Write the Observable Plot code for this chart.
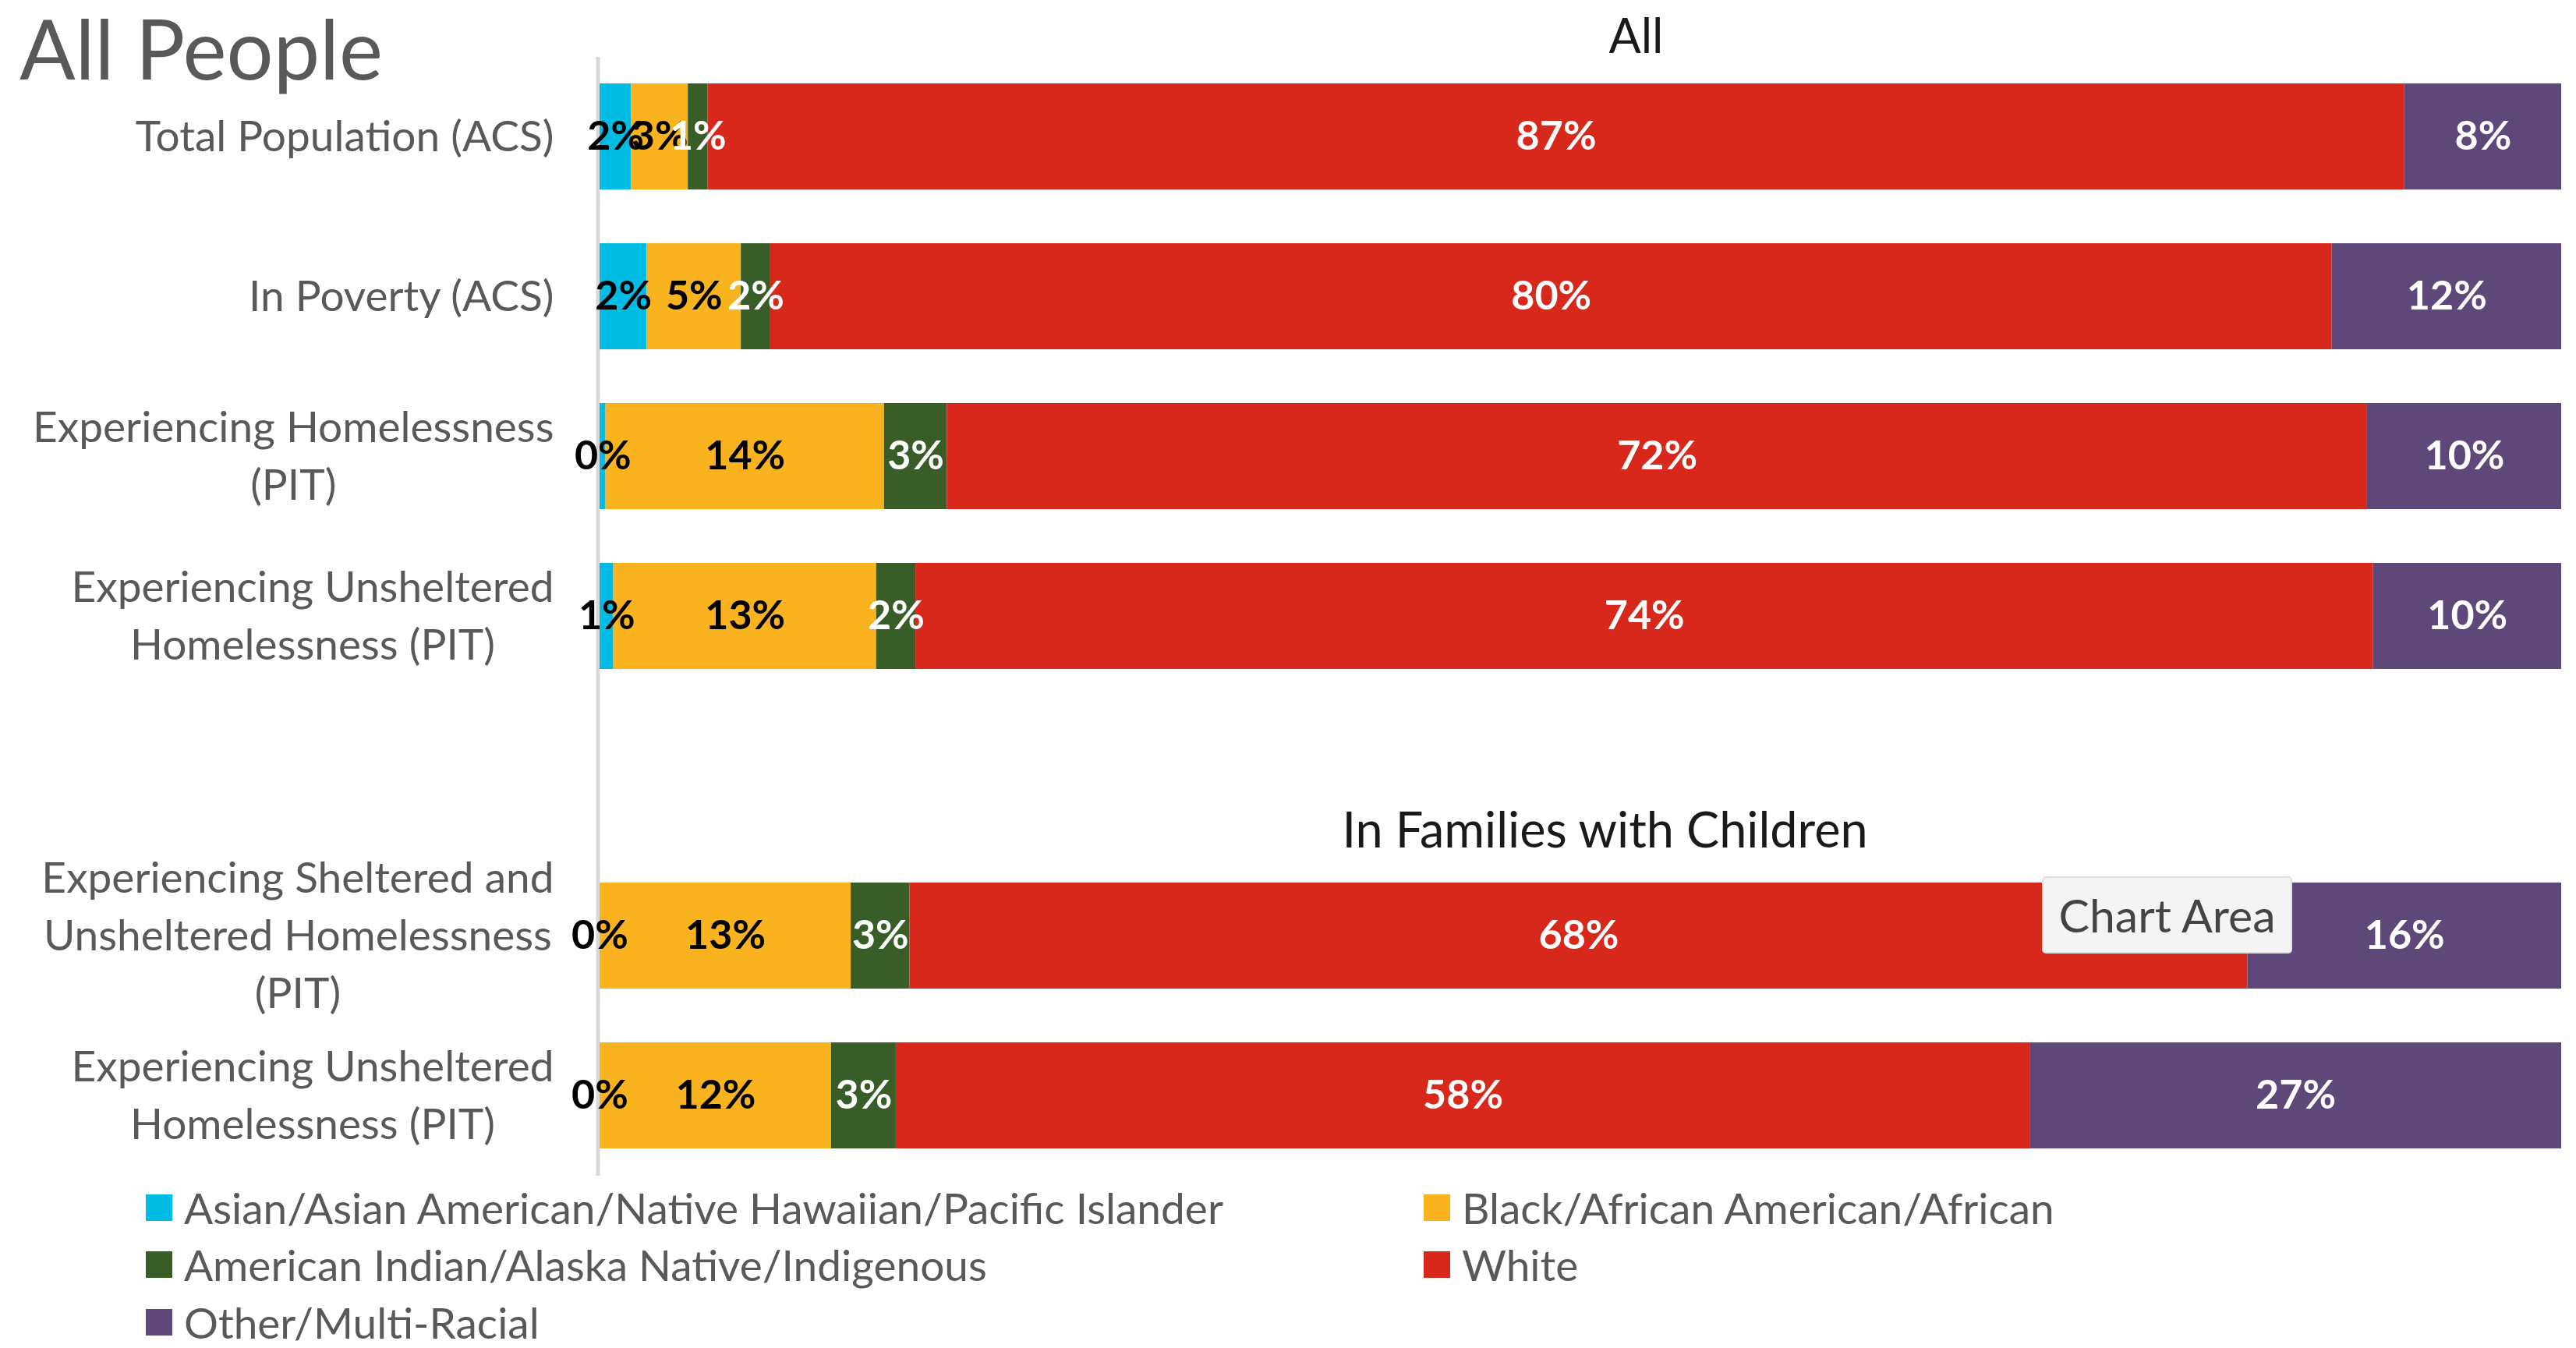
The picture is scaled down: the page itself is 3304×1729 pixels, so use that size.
<!DOCTYPE html>
<html>
<head>
<meta charset="utf-8">
<script src="https://cdn.jsdelivr.net/npm/d3@7"></script>
<script src="https://cdn.jsdelivr.net/npm/@observablehq/plot@0.6"></script>
<style>
  html, body { margin: 0; padding: 0; background: #fff; }
  body { width: 3304px; height: 1729px; position: relative; overflow: hidden; font-family: Lato, "Open Sans", sans-serif; }
  #chart { position: absolute; left: 0; top: 0; z-index: 1; }
  #title { position: absolute; left: 25px; top: 8px; font-size: 106px; line-height: 1; color: #595959; white-space: nowrap; z-index: 4; }
  #tip { position: absolute; left: 2619px; top: 1124px; width: 317px; height: 95px; background: #f4f4f4; border: 2px solid #e0e0e0; border-radius: 5px; font-size: 59px; color: #444; display: flex; align-items: center; justify-content: center; z-index: 5; }
  #legend { position: absolute; left: 187px; top: 1512px; display: grid; grid-template-columns: 1639px auto; grid-auto-rows: 73.5px; font-size: 55px; color: #595959; z-index: 3; }
  .item { display: flex; align-items: center; white-space: nowrap; }
  .sw { width: 34px; height: 34px; margin-right: 15px; flex: none; }
</style>
</head>
<body>
<div id="title">All People</div>
<div id="chart"></div>
<div id="tip">Chart Area</div>
<div id="legend"></div>
<script>
const races = [
  "Asian/Asian American/Native Hawaiian/Pacific Islander",
  "Black/African American/African",
  "American Indian/Alaska Native/Indigenous",
  "White",
  "Other/Multi-Racial"
];
const raceColors = ["#00BCE4", "#F9B31E", "#385D27", "#D8281B", "#5E4879"];
const darkLabelRaces = ["Asian/Asian American/Native Hawaiian/Pacific Islander", "Black/African American/African"];

const groups = ["All", "All", "All", "All", "In Families with Children", "In Families with Children"];
const categories = [
  "Total Population (ACS)",
  "In Poverty (ACS)",
  "Experiencing Homelessness\n(PIT)",
  "Experiencing Unsheltered\nHomelessness (PIT)",
  "Experiencing Sheltered and\nUnsheltered Homelessness\n(PIT)",
  "Experiencing Unsheltered\nHomelessness (PIT)"
];
const asian = [1.6, 2.4, 0.3, 0.7, 0.0, 0.0];
const black = [2.9, 4.8, 14.2, 13.4, 12.8, 11.8];
const aian  = [1.0, 1.5, 3.2, 2.0, 3.0, 3.3];
const white = [86.5, 79.6, 72.4, 74.3, 68.2, 57.8];
const other = [8.0, 11.7, 9.9, 9.6, 16.0, 27.1];
const groupTitles = ["All", "In Families with Children"];

const series = [asian, black, aian, white, other];
const spacerKey = "spacer";
const keys = categories.map((c, i) => groups[i] + "|" + c);
const yDomain = [...keys.slice(0, 4), spacerKey, ...keys.slice(4)];
const labelOf = new Map(keys.map((k, i) => [k, categories[i]]));

const rows = [];
categories.forEach((c, i) => {
  races.forEach((r, j) => {
    rows.push({key: keys[i], race: r, value: series[j][i]});
  });
});
const fmt = d => Math.round(d.value) + "%";

const chart = Plot.plot({
  width: 3304,
  height: 1520,
  marginLeft: 769,
  marginRight: 19,
  marginTop: 73,
  marginBottom: 12,
  style: {fontFamily: "Lato, 'Open Sans', sans-serif", background: "transparent", overflow: "visible"},
  x: {domain: [0, 100], axis: null},
  y: {domain: yDomain, paddingInner: 0.336, paddingOuter: 0.168},
  color: {domain: races, range: raceColors},
  marks: [
    Plot.ruleX([0], {stroke: "#d9d9d9", strokeWidth: 5, dx: -2.5}),
    Plot.barX(rows, {x: "value", y: "key", fill: "race"}),
    Plot.text(rows, Plot.stackX({
      x: "value", y: "key", z: "race",
      text: d => darkLabelRaces.includes(d.race) ? fmt(d) : "",
      fill: "black", fontWeight: "bold", fontSize: 52
    })),
    Plot.text(rows, Plot.stackX({
      x: "value", y: "key", z: "race",
      text: d => darkLabelRaces.includes(d.race) ? "" : fmt(d),
      fill: "white", fontWeight: "bold", fontSize: 52
    })),
    Plot.axisY({
      tickSize: 0, tickPadding: 59, dy: -5,
      tickFormat: k => labelOf.get(k) || "",
      fontSize: 55, fill: "#595959", lineHeight: 1.345, label: null
    }),
    Plot.text([groupTitles[0]], {
      frameAnchor: "top", lineAnchor: "bottom", dy: -6, dx: 71,
      text: d => d, fontSize: 61, fill: "#1a1a1a"
    }),
    Plot.text([groupTitles[1]], {
      y: () => spacerKey, frameAnchor: "middle", lineAnchor: "bottom", dy: 91, dx: 31,
      text: d => d, fontSize: 63, fill: "#1a1a1a"
    })
  ]
});
document.getElementById("chart").appendChild(chart);

// Center the lines of each wrapped category label within its right-aligned block
chart.querySelectorAll('g[aria-label="y-axis tick label"] text').forEach(t => {
  const w = t.getBBox().width;
  t.setAttribute("text-anchor", "middle");
  const tr = t.getAttribute("transform") || "";
  t.setAttribute("transform", tr + ` translate(${-w / 2},0)`);
});

const legend = document.getElementById("legend");
races.forEach((r, i) => {
  const item = document.createElement("div");
  item.className = "item";
  const sw = document.createElement("span");
  sw.className = "sw";
  sw.style.background = raceColors[i];
  const lab = document.createElement("span");
  lab.textContent = r;
  item.appendChild(sw);
  item.appendChild(lab);
  legend.appendChild(item);
});
</script>
</body>
</html>
